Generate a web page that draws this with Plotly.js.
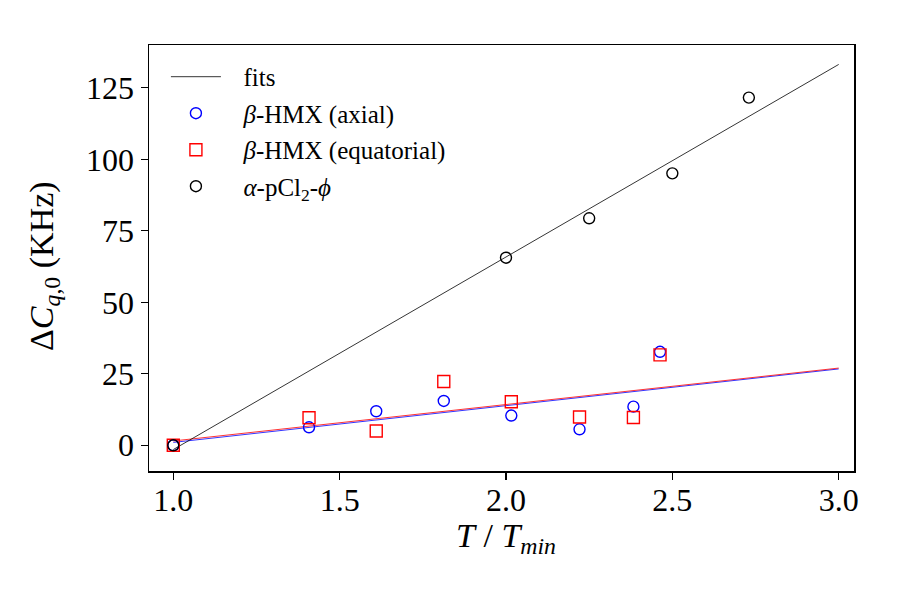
<!DOCTYPE html>
<html>
<head>
<meta charset="utf-8">
<script src="https://cdn.plot.ly/plotly-3.0.1.min.js"></script>
<style>
  html, body { margin: 0; padding: 0; background: #ffffff; }
  #chart { width: 900px; height: 600px; }
</style>
</head>
<body>
<div id="chart"></div>
<script>
// Reduced temperature T/Tmin for each sample
const tAxial = [1.0, 1.408, 1.610, 1.813, 2.016, 2.221, 2.383, 2.463];
const tEquatorial = [1.0, 1.408, 1.610, 1.813, 2.016, 2.221, 2.383, 2.463];
const tAlpha = [1.0, 2.0, 2.25, 2.5, 2.73];

// Quadrupole coupling shift ΔC_q,0 (kHz)
const dcqAxial = [0.0, 6.3, 11.9, 15.5, 10.4, 5.6, 13.5, 32.7];
const dcqEquatorial = [0.0, 9.6, 5.0, 22.3, 15.2, 9.9, 9.7, 31.6];
const dcqAlpha = [0.0, 65.6, 79.4, 95.1, 121.6];

// Linear fits, evaluated at the ends of the fitted range
const fitX = [1.0, 3.0];
const fitAxial = [1.0, 26.7];
const fitEquatorial = [1.5, 27.0];
const fitAlpha = [-1.5, 133.2];

// Axis ticks
const xTicks = [1.0, 1.5, 2.0, 2.5, 3.0];
const xTickText = ['1.0', '1.5', '2.0', '2.5', '3.0'];
const yTicks = [0, 25, 50, 75, 100, 125];

const serif = 'Liberation Serif, Times New Roman, Times, serif';
// gap between legend symbol and its label
const pad = '\u2002\u2009';

const traces = [
  {
    x: fitX, y: fitAxial, mode: 'lines', showlegend: false,
    line: { color: '#0000ff', width: 0.8 }, hoverinfo: 'skip'
  },
  {
    x: fitX, y: fitEquatorial, mode: 'lines', showlegend: false,
    line: { color: '#ff0000', width: 0.8 }, hoverinfo: 'skip'
  },
  {
    x: fitX, y: fitAlpha, mode: 'lines', name: pad + 'fits', legendgroup: 'g0',
    line: { color: '#000000', width: 0.8 }
  },
  {
    x: tAxial, y: dcqAxial, mode: 'markers', legendgroup: 'g1',
    name: pad + '<i>β</i>-HMX (axial)',
    marker: { symbol: 'circle-open', size: 11, color: '#0000ff', line: { width: 1.4, color: '#0000ff' } }
  },
  {
    x: tEquatorial, y: dcqEquatorial, mode: 'markers', legendgroup: 'g2',
    name: pad + '<i>β</i>-HMX (equatorial)',
    marker: { symbol: 'square-open', size: 12, color: '#ff0000', line: { width: 1.4, color: '#ff0000' } }
  },
  {
    x: tAlpha, y: dcqAlpha, mode: 'markers', legendgroup: 'g3',
    name: pad + '<i>α</i>-pCl<sub>2</sub>-<i>ϕ</i>',
    marker: { symbol: 'circle-open', size: 11, color: '#000000', line: { width: 1.4, color: '#000000' } }
  }
];

const layout = {
  width: 900,
  height: 600,
  paper_bgcolor: '#ffffff',
  plot_bgcolor: '#ffffff',
  margin: { l: 149, r: 46, t: 45, b: 129 },
  font: { family: serif, color: '#000000', size: 32 },
  showlegend: true,
  legend: {
    x: 0.024, y: 0.979, xanchor: 'left', yanchor: 'top',
    bgcolor: 'rgba(0,0,0,0)', borderwidth: 0,
    font: { family: serif, size: 25, color: '#000000' },
    itemwidth: 50,
    tracegroupgap: 1
  },
  xaxis: {
    range: [0.927, 3.046],
    tickmode: 'array', tickvals: xTicks, ticktext: xTickText,
    ticks: 'outside', ticklen: 7, tickwidth: 1.2, tickcolor: '#000000',
    ticklabelstandoff: -7,
    showline: true, linecolor: '#000000', linewidth: 1.5, mirror: true,
    showgrid: false, zeroline: false,
    tickfont: { family: serif, size: 32, color: '#000000' }
  },
  yaxis: {
    range: [-9.0, 140.0],
    tickmode: 'array', tickvals: yTicks,
    ticks: 'outside', ticklen: 7, tickwidth: 1.2, tickcolor: '#000000',
    showline: true, linecolor: '#000000', linewidth: 1.5, mirror: true,
    showgrid: false, zeroline: false,
    tickfont: { family: serif, size: 32, color: '#000000' }
  },
  annotations: [
    {
      // x-axis title
      xref: 'paper', yref: 'paper', x: 0.5057, y: -0.157,
      xanchor: 'center', yanchor: 'middle', showarrow: false,
      text: '<i>T</i> / <i>T</i><sub><i>min</i></sub>',
      font: { family: serif, size: 34, color: '#000000' }
    },
    {
      // y-axis title
      xref: 'paper', yref: 'paper', x: -0.149, y: 0.481,
      xanchor: 'center', yanchor: 'middle', showarrow: false, textangle: -90,
      text: 'Δ<i>C</i><sub><i>q</i>,0</sub> (KHz)',
      font: { family: serif, size: 34, color: '#000000' }
    }
  ]
};

Plotly.newPlot('chart', traces, layout, { displayModeBar: false, staticPlot: true });
</script>
</body>
</html>
